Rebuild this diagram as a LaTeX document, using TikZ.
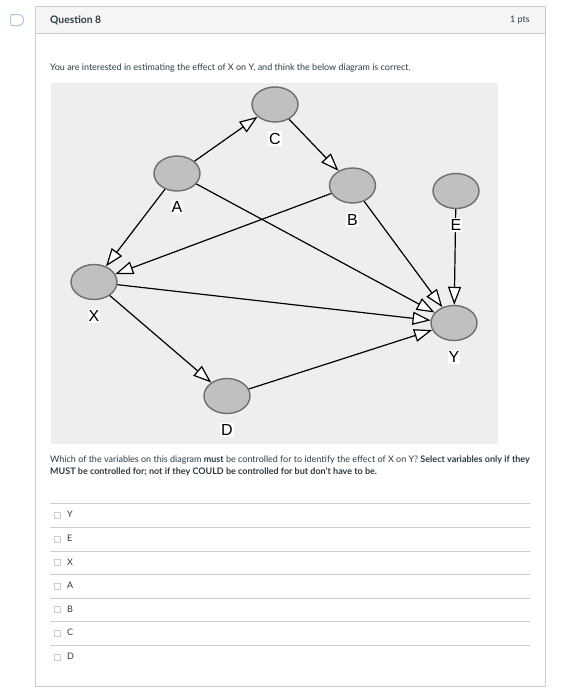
\documentclass[tikz,border=0pt]{standalone}
\usepackage{fontspec}
\setmainfont{Lato}
\newfontfamily\diagfont{Liberation Sans}
\usetikzlibrary{shapes.geometric,arrows.meta}
\definecolor{cardline}{HTML}{C7CDD1}
\definecolor{headbg}{HTML}{F5F5F5}
\definecolor{diagbg}{HTML}{EEEEEE}
\definecolor{nodefill}{HTML}{C0C0C0}
\definecolor{nodeline}{HTML}{6E6E6E}
\definecolor{txt}{HTML}{2D3B45}
\definecolor{sepline}{HTML}{C7CDD1}
\definecolor{flagline}{HTML}{A9C7E8}
\tikzset{
  var/.style={ellipse,draw=nodeline,fill=nodefill,line width=1.4pt,minimum width=46pt,minimum height=35pt,inner sep=0pt},
  lab/.style={fill=white,inner xsep=1pt,inner ysep=1.5pt,font=\diagfont\fontsize{16}{16}\selectfont,text=black},
  edge/.style={line width=1.2pt,draw=black,-{Triangle[open,length=18pt,width=13pt,fill=white,line width=1.2pt]}},
  uitext/.style={font=\fontsize{9}{11}\selectfont,text=txt,inner sep=0pt},
  opt/.style={font=\fontsize{9}{11}\selectfont,text=txt,inner sep=0pt,anchor=west},
  box/.style={draw=cardline,fill=white,line width=0.6pt,minimum size=6pt,inner sep=0pt},
  sep/.style={draw=sepline,line width=0.7pt}
}
\begin{document}
\begin{tikzpicture}[x=1pt,y=-1pt]
\useasboundingbox (0,0) rectangle (567,697);
\fill[white] (0,0) rectangle (567,697);
% flag icon
\draw[flagline,line width=1pt,rounded corners=2pt] (10.5,14.5) -- (21,14.5) -- (24.5,20) -- (21,25.5) -- (10.5,25.5) -- cycle;
% card
\fill[headbg] (35,6) rectangle (545,33);
\draw[cardline,line width=0.8pt] (35,6) rectangle (545,686);
\draw[cardline,line width=0.8pt] (35,33) -- (545,33);
\node[uitext,anchor=west,font=\bfseries\fontsize{10.3}{11}\selectfont] (qtitle) at (50,20) {Question 8};
\node[uitext,anchor=east] (pts) at (530,20) {1 pts};
\node[uitext,anchor=west] (intro) at (50,68) {You are interested in estimating the effect of X on Y, and think the below diagram is correct.};
% diagram background
\fill[diagbg] (51,83) rectangle (498,444);
% nodes
\node[var] (C) at (275,104.5) {};
\node[var] (A) at (177,173.5) {};
\node[var] (B) at (352.5,185.5) {};
\node[var] (E) at (456,191) {};
\node[var] (X) at (94,282) {};
\node[var] (Y) at (454,323) {};
\node[var] (D) at (227,396) {};
% edges
\draw[edge] (A) -- (C);
\draw[edge] (C) -- (B);
\draw[edge] (A) -- (X);
\draw[edge] (B) -- (X);
\draw[edge] (A) -- (Y);
\draw[edge] (B) -- (Y);
\draw[edge] (E) -- (Y);
\draw[edge] (X) -- (Y);
\draw[edge] (X) -- (D);
\draw[edge] (D) -- (Y);
% labels
\node[lab] (lC) at (275,138.5) {C};
\node[lab] (lA) at (177,207) {A};
\node[lab] (lB) at (352.5,220) {B};
\node[lab] (lE) at (456,224.5) {E};
\node[lab] (lX) at (94,316) {X};
\node[lab] (lY) at (454,357) {Y};
\node[lab] (lD) at (227,429.5) {D};
% question
\node[uitext,anchor=north west,align=left] (q) at (50,456) {Which of the variables on this diagram \textbf{must} be controlled for to identify the effect of X on Y? \textbf{Select variables only if they}\\[1pt]\textbf{MUST be controlled for; not if they COULD be controlled for but don't have to be.}};
% options
\draw[sep] (50,503) -- (530,503);
\draw[sep] (50,527) -- (530,527);
\draw[sep] (50,551) -- (530,551);
\draw[sep] (50,574.5) -- (530,574.5);
\draw[sep] (50,598) -- (530,598);
\draw[sep] (50,621.5) -- (530,621.5);
\draw[sep] (50,645) -- (530,645);
\node[box] (b1) at (57.5,515) {}; \node[opt] (o1) at (67,514.5) {Y};
\node[box] (b2) at (57.5,539) {}; \node[opt] (o2) at (67,538.5) {E};
\node[box] (b3) at (57.5,562.5) {}; \node[opt] (o3) at (67,562) {X};
\node[box] (b4) at (57.5,586) {}; \node[opt] (o4) at (67,585.5) {A};
\node[box] (b5) at (57.5,609.5) {}; \node[opt] (o5) at (67,609) {B};
\node[box] (b6) at (57.5,633) {}; \node[opt] (o6) at (67,632.5) {C};
\node[box] (b7) at (57.5,657) {}; \node[opt] (o7) at (67,656.5) {D};
\end{tikzpicture}
\end{document}
